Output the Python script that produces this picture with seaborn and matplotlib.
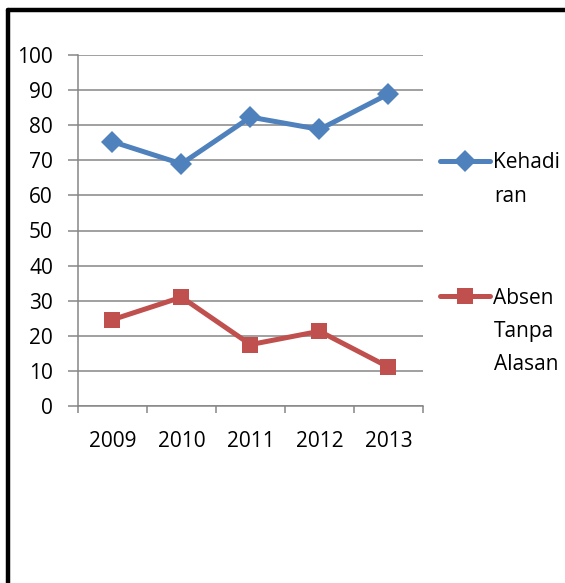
import numpy as np
import pandas as pd
import matplotlib.pyplot as plt
import seaborn as sns
from matplotlib.lines import Line2D
from matplotlib.ticker import FixedLocator

# data
years = [2009, 2010, 2011, 2012, 2013]
kehadiran = [75.3, 69.0, 82.3, 78.8, 88.9]
absen = [24.6, 31.0, 17.5, 21.3, 11.1]
y_ticks = [0, 10, 20, 30, 40, 50, 60, 70, 80, 90, 100]

sns.set_style('white')
plt.rcParams['font.family'] = ['Open Sans', 'DejaVu Sans']
plt.rcParams['text.color'] = 'black'
plt.rcParams['xtick.labelcolor'] = 'black'
plt.rcParams['ytick.labelcolor'] = 'black'

blue = '#4F81BD'
red = '#C0504D'
grey = '#868686'

df = pd.DataFrame({'tahun': years * 2,
                   'nilai': kehadiran + absen,
                   'seri': ['Kehadiran'] * len(years) + ['Absen'] * len(years)})

fig = plt.figure(figsize=(5.65, 5.83), dpi=100)
ax = fig.add_axes([78 / 565, 1 - 406 / 583, 345 / 565, 351 / 583])

sns.lineplot(data=df, x='tahun', y='nilai', hue='seri', style='seri',
             palette={'Kehadiran': blue, 'Absen': red},
             markers={'Kehadiran': 'D', 'Absen': 's'},
             dashes=False, linewidth=3.6, markersize=11,
             markeredgewidth=0, legend=False, ax=ax)

ax.set_xlim(years[0] - 0.5, years[-1] + 0.5)
ax.set_ylim(0, 100)
ax.set_yticks(y_ticks)
ax.set_xticks(years)
ax.xaxis.set_minor_locator(FixedLocator([y - 0.5 for y in years] + [years[-1] + 0.5]))
ax.set_xlabel('')
ax.set_ylabel('')

ax.yaxis.grid(True, color=grey, linewidth=1.1)
ax.set_axisbelow(True)
for s in ['top', 'right']:
    ax.spines[s].set_visible(False)
for s in ['left', 'bottom']:
    ax.spines[s].set_color(grey)
    ax.spines[s].set_linewidth(1.1)

fs = 15
ax.tick_params(axis='y', which='major', direction='out', length=7, width=1.1,
               color=grey, labelcolor='black', pad=11, labelsize=fs, left=True)
ax.tick_params(axis='x', which='major', length=0, pad=18, labelsize=fs,
               labelcolor='black')
ax.tick_params(axis='x', which='minor', direction='out', length=5, width=1.1,
               color=grey, bottom=True)

# legends, one per series with wrapped text like the original
h1 = Line2D([], [], color=blue, lw=3.6, marker='D', markersize=11, markeredgewidth=0)
h2 = Line2D([], [], color=red, lw=3.6, marker='s', markersize=11, markeredgewidth=0)
leg1 = fig.legend(handles=[h1], labels=['Kehadi'], loc='center left',
                  bbox_to_anchor=(440 / 565, 1 - 163 / 583), frameon=False,
                  fontsize=fs, handlelength=2.4, handletextpad=0.15,
                  borderpad=0, borderaxespad=0, labelcolor='black')
leg2 = fig.legend(handles=[h2], labels=['Absen'], loc='center left',
                  bbox_to_anchor=(440 / 565, 1 - 298 / 583), frameon=False,
                  fontsize=fs, handlelength=2.4, handletextpad=0.15,
                  borderpad=0, borderaxespad=0, labelcolor='black')
fig.text(494 / 565, 1 - 196 / 583, 'ran', fontsize=fs, va='center', color='black')
fig.text(494 / 565, 1 - 331 / 583, 'Tanpa', fontsize=fs, va='center', color='black')
fig.text(494 / 565, 1 - 364 / 583, 'Alasan', fontsize=fs, va='center', color='black')

# thick black frame (top and left edges visible)
fig.add_artist(Line2D([8 / 565, 1], [1 - 10 / 583, 1 - 10 / 583], color='black',
                      lw=3.2, transform=fig.transFigure))
fig.add_artist(Line2D([8 / 565, 8 / 565], [0, 1 - 10 / 583], color='black',
                      lw=3.2, transform=fig.transFigure))

fig.savefig('out.png', dpi=100)
